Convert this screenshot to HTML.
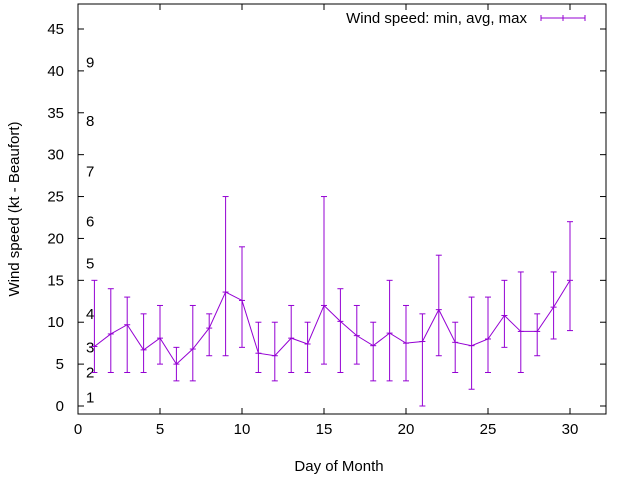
<!DOCTYPE html>
<html><head><meta charset="utf-8"><style>
body{margin:0;background:#fff}
svg{display:block;font-family:"Liberation Sans",sans-serif}
</style></head><body>
<svg width="640" height="480" xmlns="http://www.w3.org/2000/svg">
<g id="axes"></g>
<g id="marks"></g>
</svg>
<script>
const days=[1,2,3,4,5,6,7,8,9,10,11,12,13,14,15,16,17,18,19,20,21,22,23,24,25,26,27,28,29,30];
const minV=[4,4,4,4,5,3,3,6,6,7,4,3,4,4,5,4,5,3,3,3,0,6,4,2,4,7,4,6,8,9];
const avgV=[7.1,8.6,9.7,6.7,8.1,5,6.8,9.3,13.6,12.6,6.3,6,8.1,7.4,12,10.1,8.4,7.2,8.7,7.5,7.7,11.5,7.6,7.2,8,10.8,8.9,8.9,11.8,15];
const maxV=[15,14,13,11,12,7,12,11,25,19,10,10,12,10,25,14,12,10,15,12,11,18,10,13,13,15,16,11,16,22];
const xTicks=[0,5,10,15,20,25,30];
const yTicks=[0,5,10,15,20,25,30,35,40,45];
const beaufortLabels=["1","2","3","4","5","6","7","8","9"];
const beaufortPos=[1,4,7,11,17,22,28,34,41];
const L=78,R=606,T=4,B=414;
const X=d=>L+d*16.4;
const Y=v=>406-v*8.378;
const NS="http://www.w3.org/2000/svg";
function mk(tag,attrs,parent,txt){const e=document.createElementNS(NS,tag);for(const k in attrs)e.setAttribute(k,attrs[k]);if(txt!==undefined)e.textContent=txt;parent.appendChild(e);return e;}
const ax=document.getElementById('axes'),mg=document.getElementById('marks');
let e=mk('rect',{x:L,y:T,width:R-L,height:B-T,fill:'none',stroke:'#000','stroke-width':1},ax);


xTicks.forEach(t=>{
 mk('line',{x1:X(t),x2:X(t),y1:B,y2:B-6,stroke:'#000'},ax);
 mk('line',{x1:X(t),x2:X(t),y1:T,y2:T+6,stroke:'#000'},ax);
 const tx=mk('text',{x:X(t),y:B+20,'text-anchor':'middle','font-size':15,fill:'#000'},ax,String(t));
 
 
});
yTicks.forEach(t=>{
 mk('line',{x1:L,x2:L+6,y1:Y(t),y2:Y(t),stroke:'#000'},ax);
 mk('line',{x1:R,x2:R-6,y1:Y(t),y2:Y(t),stroke:'#000'},ax);
 const tx=mk('text',{x:L-14,y:Y(t)+5,'text-anchor':'end','font-size':15,fill:'#000'},ax,String(t));
 
 
});
beaufortLabels.forEach((s,i)=>{
 const tx=mk('text',{x:86,y:Y(beaufortPos[i])+5,'font-size':15,fill:'#000'},ax,s);
 
 
});
let t=mk('text',{x:339,y:471,'text-anchor':'middle','font-size':15},ax,'Day of Month');


t=mk('text',{x:0,y:0,'text-anchor':'middle','font-size':15,transform:'translate(19,209) rotate(-90)'},ax,'Wind speed (kt - Beaufort)');


const C='#9400d3';
days.forEach((d,i)=>{
 const g=mk('g',{stroke:C,'stroke-width':1},mg);
 
 
 const x=X(d);
 mk('line',{x1:x,x2:x,y1:Y(minV[i]),y2:Y(maxV[i])},g);
 mk('line',{x1:x-3,x2:x+3,y1:Y(minV[i]),y2:Y(minV[i])},g);
 mk('line',{x1:x-3,x2:x+3,y1:Y(maxV[i]),y2:Y(maxV[i])},g);
 mk('line',{x1:x-3,x2:x+3,y1:Y(avgV[i]),y2:Y(avgV[i])},g);
});
const pl=mk('polyline',{points:days.map((d,i)=>X(d)+','+Y(avgV[i])).join(' '),fill:'none',stroke:C,'stroke-width':1},mg);


const lg=mk('g',{},ax);


mk('text',{x:527,y:23,'text-anchor':'end','font-size':15},lg,'Wind speed: min, avg, max');
mk('line',{x1:541,x2:585,y1:18,y2:18,stroke:C},lg);
[541,563,585].forEach(x=>mk('line',{x1:x,x2:x,y1:15,y2:21,stroke:C},lg));
</script>
</body></html>
